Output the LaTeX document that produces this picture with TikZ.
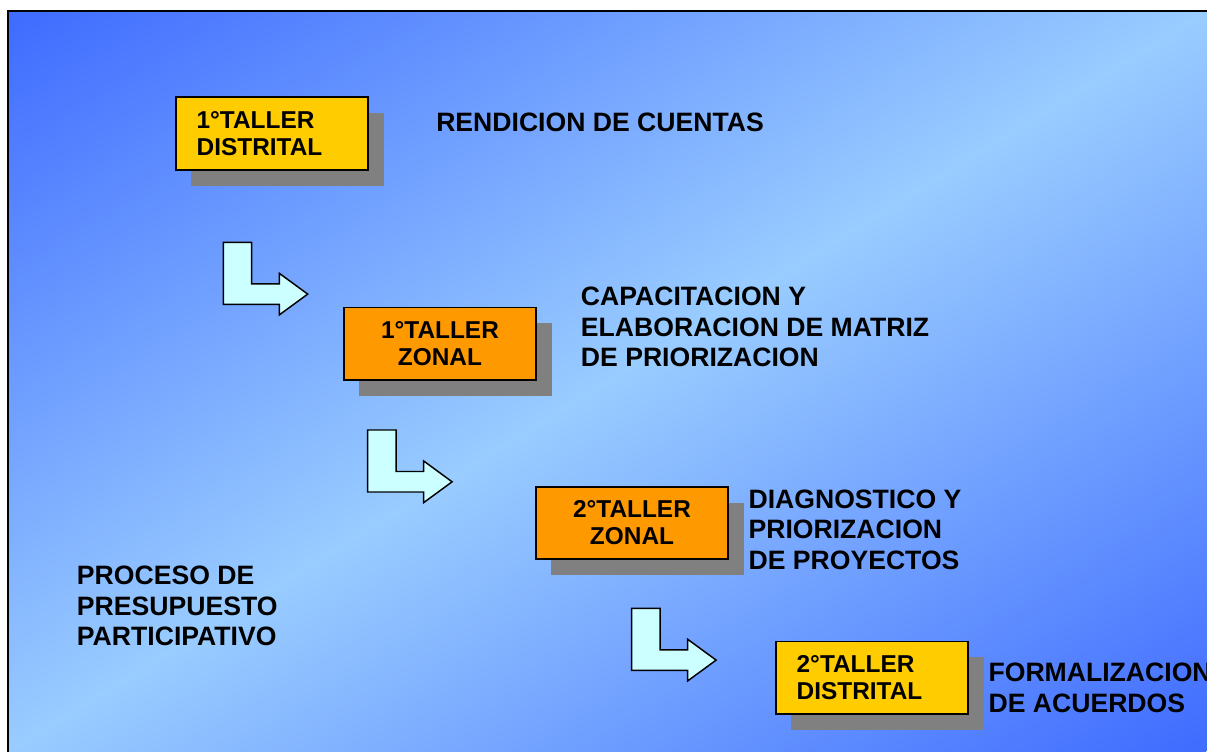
\documentclass[tikz,border=0pt]{standalone}
\usepackage{fontspec}
\setmainfont{Liberation Sans}
\usetikzlibrary{shadows}
\definecolor{bgdark}{HTML}{3F6BFF}
\definecolor{bglight}{HTML}{99CCFF}
\definecolor{tyellow}{HTML}{FFCC00}
\definecolor{torange}{HTML}{FF9900}
\definecolor{shadowgray}{HTML}{808080}
\definecolor{arrowfill}{HTML}{CCFFFF}
\pgfdeclareverticalshading{bgshade}{100bp}{%
  color(0bp)=(bgdark); color(25bp)=(bgdark); color(50bp)=(bglight);
  color(75bp)=(bgdark); color(100bp)=(bgdark)}
\newcommand\tallerfont{\fontsize{18.3}{20.3}\selectfont\bfseries}
\newcommand\sidefont{\fontsize{19.95}{22.9}\selectfont\bfseries}
\tikzset{
  tallerbox/.style={draw=black, line width=1.4pt, minimum width=144.5pt,
    minimum height=54.5pt, inner sep=0pt, font=\tallerfont,
    general shadow={fill=shadowgray, shadow xshift=11.7pt, shadow yshift=-12pt}},
  leftbox/.style={tallerbox, text width=113pt, align=left},
  centerbox/.style={tallerbox, align=center},
  sidetext/.style={anchor=north west, inner sep=0pt, align=left, font=\sidefont},
  arrowshape/.style={draw=black, line width=1.1pt, fill=arrowfill, line join=miter},
  bentarrow/.pic={
    \path[arrowshape] (0,0) -- (28.4,0) -- (28.4,41.5) -- (56,41.5) -- (56,31)
      -- (84.4,51.8) -- (56,72.6) -- (56,62) -- (0,62) -- cycle;
  }
}
\begin{document}
\begin{tikzpicture}[x=0.75pt, y=-0.75pt]
\useasboundingbox (0,0) rectangle (1207,751);
\begin{scope}
\clip (0,0) rectangle (1207,751);
\fill[white] (0,0) rectangle (1207,751);
% background gradient inside the frame
\begin{scope}
\clip (8,11) rectangle (1207,751);
\shade[shading=bgshade, transform canvas={shift={(607.5,381)}, xscale=1.62027, rotate=45}]
  (-1000,-523.3) rectangle (1000,523.3);
\end{scope}
\draw[black, line width=1.6pt] (8,770) -- (8,11) -- (1220,11);

% boxes
\node[leftbox, fill=tyellow] (b1) at (272,133.5) {1°TALLER\\DISTRITAL};
\node[centerbox, fill=torange] (b2) at (440,343.8) {1°TALLER\\ZONAL};
\node[centerbox, fill=torange] (b3) at (632,523) {2°TALLER\\ZONAL};
\node[leftbox, fill=tyellow] (b4) at (872,677.8) {2°TALLER\\DISTRITAL};

% bent arrows
\pic (a1) at (223.3,242.3) {bentarrow};
\pic (a2) at (367.7,430) {bentarrow};
\pic (a3) at (631.7,608.3) {bentarrow};

% side texts
\node[sidetext] (t1) at (436,112.7) {RENDICION DE CUENTAS};
\node[sidetext] (t2) at (580.7,286.7) {CAPACITACION Y\\ELABORACION DE MATRIZ\\DE PRIORIZACION};
\node[sidetext] (t3) at (748.3,489.3) {DIAGNOSTICO Y\\PRIORIZACION\\DE PROYECTOS};
\node[sidetext] (t4) at (988.3,662.7) {FORMALIZACION\\DE ACUERDOS};
\node[sidetext] (t5) at (76.7,566) {PROCESO DE\\PRESUPUESTO\\PARTICIPATIVO};
\end{scope}
\end{tikzpicture}
\end{document}
